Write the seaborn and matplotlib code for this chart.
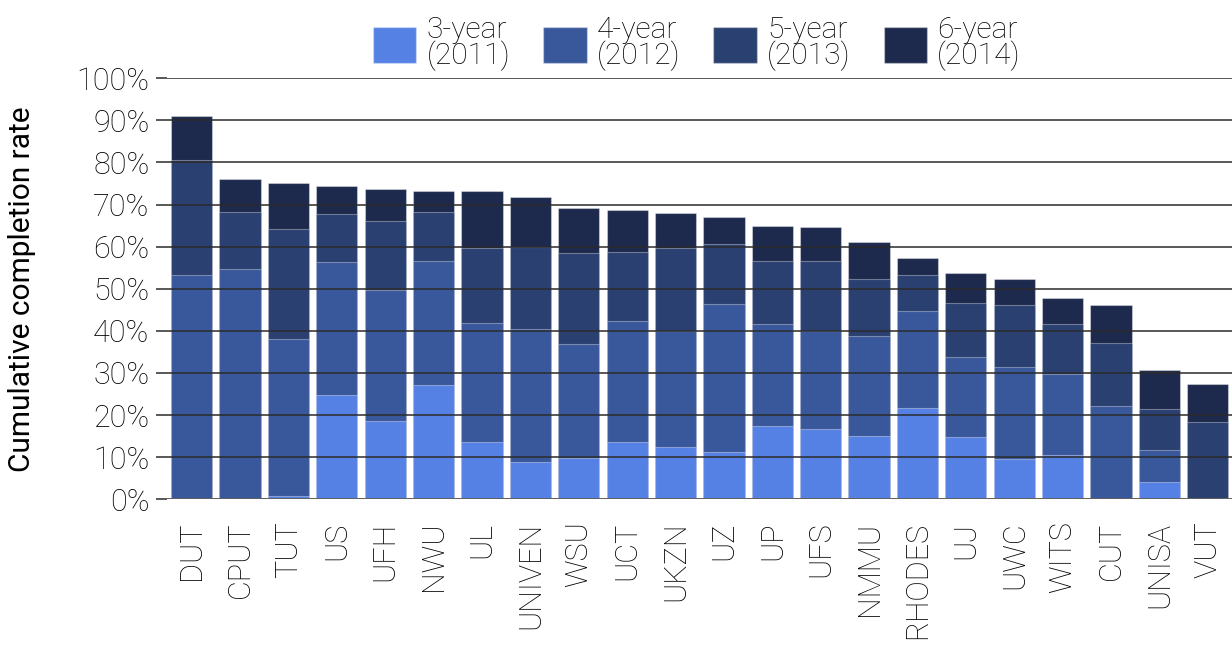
import matplotlib
matplotlib.use("Agg")
import matplotlib.pyplot as plt
import seaborn as sns
import pandas as pd
from matplotlib.patches import Patch

universities = ["DUT", "CPUT", "TUT", "US", "UFH", "NWU", "UL", "UNIVEN", "WSU", "UCT",
                "UKZN", "UZ", "UP", "UFS", "NMMU", "RHODES", "UJ", "UWC", "WITS", "CUT",
                "UNISA", "VUT"]
year6 = [91.1, 76.0, 75.2, 74.3, 73.6, 73.2, 73.2, 71.7, 69.3, 68.6, 68.1, 67.1, 65.0, 64.7,
         61.2, 57.2, 53.8, 52.4, 47.8, 46.2, 30.6, 27.4]
year5 = [80.5, 68.2, 64.3, 67.7, 66.0, 68.2, 59.7, 59.9, 58.5, 58.7, 59.8, 60.6, 56.7, 56.5,
         52.3, 53.3, 46.6, 46.2, 41.6, 37.1, 21.4, 18.4]
year4 = [53.2, 54.6, 38.1, 56.3, 49.8, 56.5, 41.8, 40.4, 36.9, 42.3, 40.0, 46.3, 41.6, 40.0,
         38.7, 44.8, 33.7, 31.4, 29.8, 22.1, 11.8, 0.0]
year3 = [0.0, 0.0, 0.7, 24.8, 18.6, 27.2, 13.7, 8.8, 9.7, 13.5, 12.5, 11.2, 17.5, 16.7,
         15.0, 21.6, 14.7, 9.5, 10.5, 0.0, 4.0, 0.0]
series_labels = ["3-year\n(2011)", "4-year\n(2012)", "5-year\n(2013)", "6-year\n(2014)"]
series_colors = ["#5581E5", "#39579B", "#2A4071", "#1D2A4D"]
yticks = [0, 10, 20, 30, 40, 50, 60, 70, 80, 90, 100]

sns.set_style("white")
plt.rcParams["font.family"] = ["Roboto", "DejaVu Sans"]
plt.rcParams["font.weight"] = "light"
txt = "#000000"

df = pd.DataFrame({"uni": universities, "y3": year3, "y4": year4, "y5": year5, "y6": year6})

fig = plt.figure(figsize=(12.32, 6.45), dpi=100)
ax = fig.add_axes([167.5 / 1232, (645 - 499.3) / 645, (1232 - 167.5) / 1232, 421 / 645])

for col, colr in zip(["y6", "y5", "y4", "y3"], series_colors[::-1]):
    sns.barplot(data=df, x="uni", y=col, color=colr, width=0.852, ax=ax,
                edgecolor=(1, 1, 1, 0.35), linewidth=0.8, saturation=1, errorbar=None)

ax.set_ylim(0, 100)
ax.set_xlim(-0.5, len(universities) - 0.5)
ax.set_yticks(yticks)
ax.set_yticklabels([f"{t}%" for t in yticks], fontsize=22, color=txt)
ax.grid(axis="y", color="#2b2b2b", linewidth=1.1)
ax.grid(axis="x", visible=False)
ax.set_axisbelow(False)
ax.axhline(0, color="#666666", linewidth=2.0, zorder=3)
for s in ax.spines.values():
    s.set_visible(False)
ax.tick_params(axis="y", length=8, width=1.1, color="#2b2b2b", pad=5, left=True)
ax.tick_params(axis="x", length=0, pad=16)
ax.set_xticks(range(len(universities)))
ax.set_xticklabels(universities, rotation=90, fontsize=22, color=txt, va="top", ha="center")
ax.set_xlabel("")
ax.set_ylabel("Cumulative completion rate", fontsize=21.5, color=txt)
ax.yaxis.set_label_coords(-0.124, 0.5)

handles = [Patch(facecolor=c, edgecolor=(1, 1, 1, 0.35)) for c in series_colors]
leg = fig.legend(handles, series_labels, loc="upper center", bbox_to_anchor=(697 / 1232, 1.0),
                 ncol=4, frameon=False, fontsize=21.5, handlelength=1.45, handleheight=1.45,
                 handletextpad=0.35, columnspacing=1.1, borderaxespad=0.15)
for t in leg.get_texts():
    t.set_color(txt)
    t.set_linespacing(0.85)

fig.savefig("out.png", dpi=100)
